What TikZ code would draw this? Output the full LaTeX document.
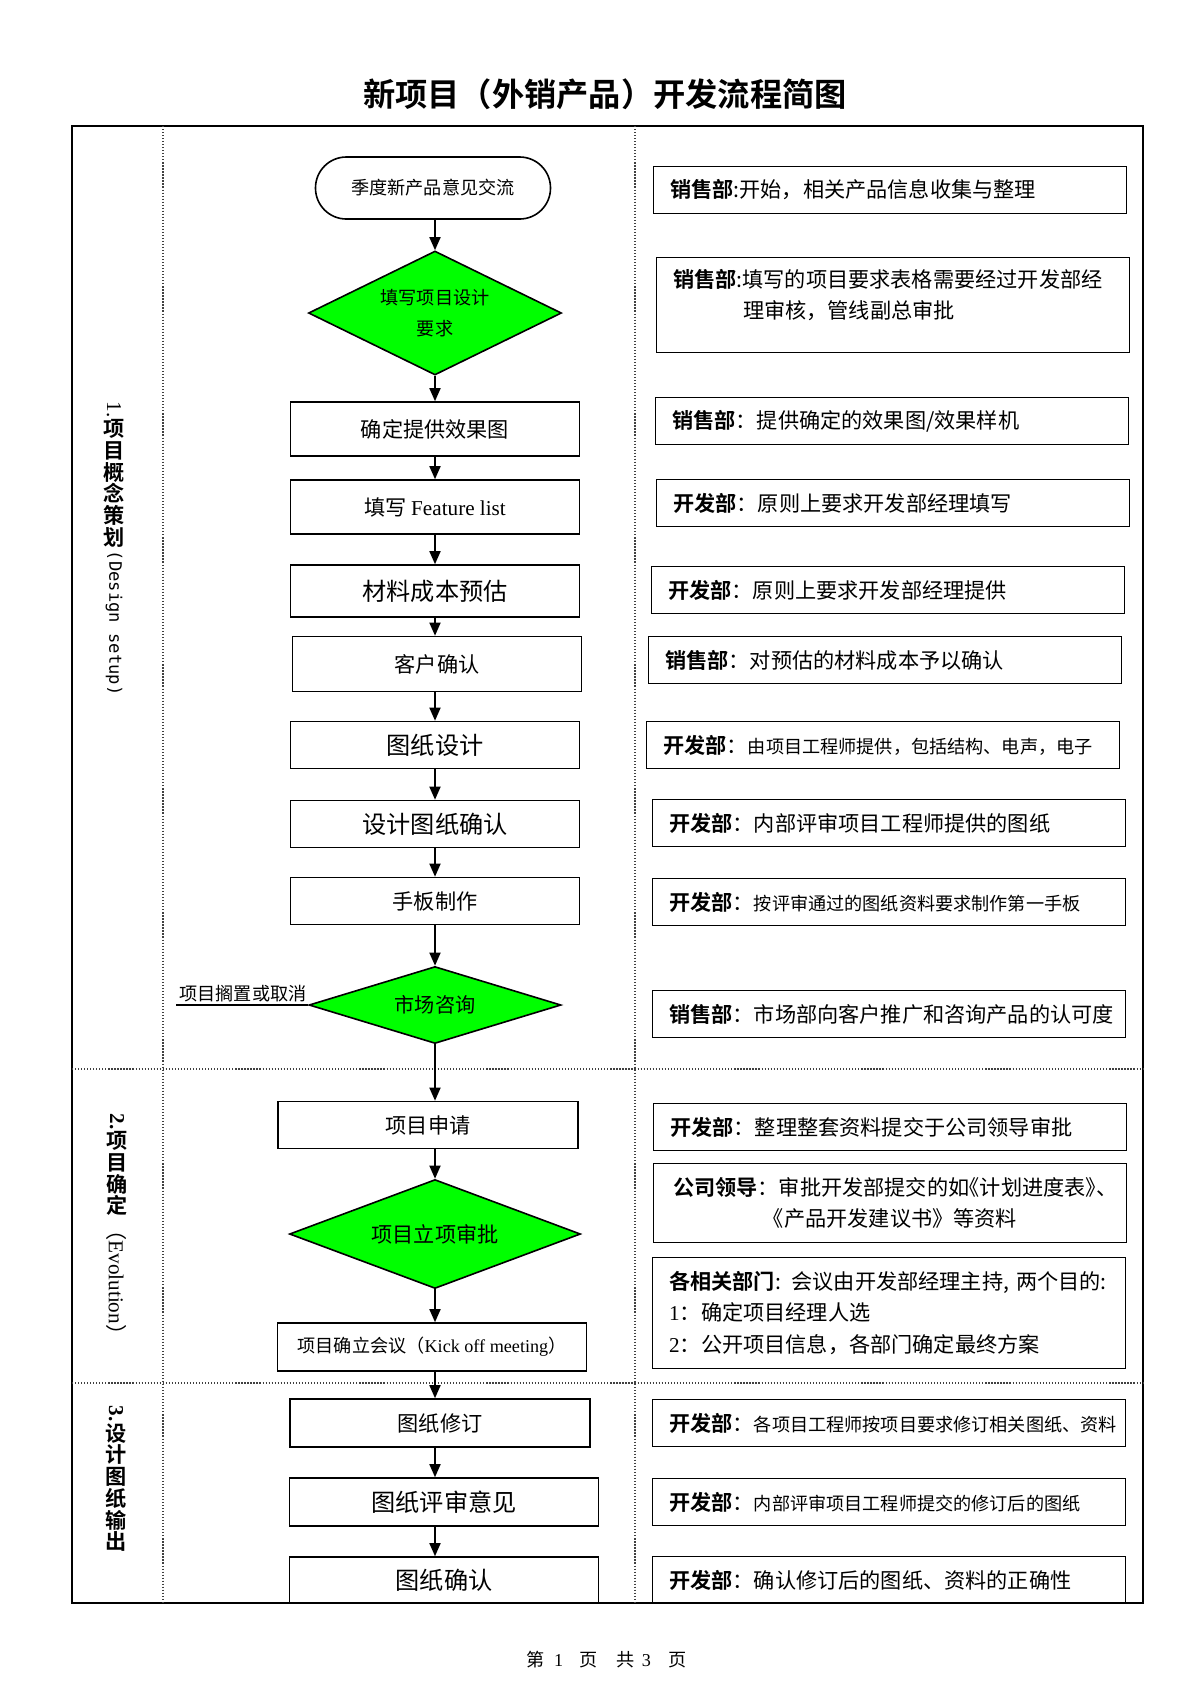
\documentclass[tikz,border=0pt]{standalone}
\usepackage{fontspec}
\usepackage{graphicx}
\setmainfont{Liberation Serif}
\newfontfamily\cjk{Noto Sans CJK SC}[BoldFont={Noto Sans CJK SC Bold}]
\newfontfamily\cjkh{Noto Sans CJK SC}[RawFeature=+halt]
\newfontfamily\monof{DejaVu Sans Mono}
\usepackage{tikz}
\usetikzlibrary{shapes.geometric}
\usetikzlibrary{arrows.meta}
\newcommand\wuhao{\fontsize{10.5}{15.5}\selectfont}
\newcommand\xiaosi{\fontsize{12}{14.4}\selectfont}
\newcommand\xiaowu{\fontsize{9}{15.4}\selectfont}
\newcommand\sanhao{\fontsize{16}{19}\selectfont}
\newcommand\dept[1]{{\bfseries #1}}
\def\pxu{0.496pt}

\begin{document}
\begin{tikzpicture}[%
  x=\pxu, y=-\pxu,
  arr/.style={-{Triangle[length=6.5pt,width=5.5pt]}, line width=0.8pt},
  link/.style={line width=0.8pt},
  frame/.style={line width=0.9pt},
  lane/.style={line width=0.6pt, black!75, dash pattern=on 0.6pt off 0.9pt},
  box/.style={draw, line width=0.8pt, minimum width=289*\pxu, minimum height=47*\pxu,
    inner sep=2pt, font={\cjk\wuhao}},
  term/.style={box, rounded corners=15.3pt, minimum width=235*\pxu, minimum height=62*\pxu,
    font={\cjk\xiaowu}},
  decide/.style={diamond, draw, fill=green, line width=0.8pt, inner sep=0pt, aspect=2,
    font={\cjk\wuhao}, align=center},
  note/.style={draw, line width=0.8pt, minimum width=473*\pxu, minimum height=47*\pxu,
    inner xsep=8pt, text width=218pt, align=left, font={\cjk\wuhao}},
  sect/.style={align=center, inner sep=0pt, font={\cjk\bfseries\fontsize{10.5}{10.8}\selectfont}}
  ]
  \fill[white] (0,0) rectangle (1200,1698);
  \useasboundingbox (0,0) rectangle (1200,1698);

  % Title and page number
  \node[font={\cjk\bfseries\sanhao}] (title) at (605,94) {新项目（外销产品）开发流程简图};
  \node[font=\xiaowu] (foot) at (607,1660)
    {{\cjk 第}\hspace{4.5pt}1\hspace{8pt}{\cjk 页}\hspace{9.5pt}{\cjk 共}\hspace{3.5pt}3\hspace{9pt}{\cjk 页}};

  % Draw the flow steps
  \node[term] (start) at (433,188) {季度新产品意见交流};
  \node[decide, minimum width=253*\pxu, minimum height=124*\pxu, font={\cjk\xiaowu}] (req) at (435,313) {填写项目设计\\要求};
  \node[box, minimum height=54*\pxu] (render) at (435,429) {确定提供效果图};
  \node[box, minimum height=54*\pxu] (feat) at (435,507) {填写 {\rmfamily Feature list}};
  \node[box, minimum height=52*\pxu, font={\cjk\xiaosi}] (cost) at (435,591) {材料成本预估};
  \node[box, minimum height=55*\pxu] (confirm) at (437,664) {客户确认};
  \node[box, font={\cjk\xiaosi}] (design) at (435,745) {图纸设计};
  \node[box, font={\cjk\xiaosi}] (check) at (435,824) {设计图纸确认};
  \node[box] (proto) at (435,901) {手板制作};
  \node[decide, minimum width=252*\pxu, minimum height=77*\pxu, font={\cjk\fontsize{10}{12}\selectfont}] (market) at (435,1005) {市场咨询};
  \node[box, minimum width=300*\pxu] (apply) at (428,1125) {项目申请};
  \node[decide, minimum width=291*\pxu, minimum height=109*\pxu] (approve) at (435,1234) {项目立项审批};
  \node[box, minimum width=309*\pxu, minimum height=48*\pxu, font={\cjk\xiaowu}] (kickoff) at (432,1347) {项目确立会议（{\rmfamily Kick off meeting}）};
  \node[box, minimum width=300*\pxu, minimum height=48*\pxu] (revise) at (440,1423) {图纸修订};
  \node[box, minimum width=309*\pxu, minimum height=48*\pxu, font={\cjk\xiaosi}] (review) at (444,1502) {图纸评审意见};
  \node[box, minimum width=309*\pxu, minimum height=46*\pxu, font={\cjk\xiaosi}] (final) at (444,1580) {图纸确认};

  % Draw the notes of the departments
  \foreach \name/\x/\y/\txt in {%
    r1/890/190/{\dept{销售部}:开始，相关产品信息收集与整理},
    r3/892/421/{\dept{销售部}：提供确定的效果图/效果样机},
    r4/893/503/{\dept{开发部}：原则上要求开发部经理填写},
    r5/888/590/{\dept{开发部}：原则上要求开发部经理提供},
    r6/885/660/{\dept{销售部}：对预估的材料成本予以确认},
    r7/883/745/{\dept{开发部}：{\xiaowu 由项目工程师提供，包括结构、电声，电子}},
    r8/889/823/{\dept{开发部}：内部评审项目工程师提供的图纸},
    r9/889/902/{\dept{开发部}：{\xiaowu 按评审通过的图纸资料要求制作第一手板}},
    r10/889/1014/{\dept{销售部}：市场部向客户推广和咨询产品的认可度},
    r11/890/1127/{\dept{开发部}：整理整套资料提交于公司领导审批},
    r14/889/1423/{\dept{开发部}：{\xiaowu 各项目工程师按项目要求修订相关图纸、资料}},
    r15/889/1502/{\dept{开发部}：{\xiaowu 内部评审项目工程师提交的修订后的图纸}},
    r16/889/1580/{\dept{开发部}：确认修订后的图纸、资料的正确性}}
  \node[note] (\name) at (\x,\y) {\txt};
  \node[note, minimum height=95*\pxu] (r2) at (893,305)
    {\dept{销售部}:填写的项目要求表格需要经过开发部经\\\hspace*{3.3em}理审核，管线副总审批\\[-4.5pt]\mbox{}};
  \node[note, minimum height=79*\pxu, align=center] (r12) at (890,1203)
    {\dept{公司领导}：审批开发部提交的如{\cjkh 《}计划进度表{\cjkh 》、}\\《产品开发建议书》等资料};
  \node[note, minimum height=111*\pxu] (r13) at (889,1313)
    {\dept{各相关部门}: 会议由开发部经理主持, 两个目的:\\{\rmfamily 1}：确定项目经理人选\\{\rmfamily 2}：公开项目信息，各部门确定最终方案};

  % Annotate the stages
  \node[sect, anchor=north] (s1) at (114,401)
    {\rotatebox{-90}{\rmfamily\mdseries 1.}\\项\\目\\概\\念\\策\\划\\[-8pt]\rotatebox{-90}{\monof\mdseries\fontsize{8.5}{10}\selectfont(Design setup)}};
  \node[sect, anchor=north] (s2) at (117,1113)
    {\rotatebox{-90}{\rmfamily 2.}\\项\\目\\确\\定\\[-8pt]\rotatebox{-90}{\mdseries（{\rmfamily Evolution}）}};
  \node[sect, anchor=north] (s3) at (116,1405)
    {\rotatebox{-90}{\rmfamily 3.}\\设\\计\\图\\纸\\输\\出};

  % Frame and lanes
  \draw[frame] (72,126) rectangle (1143,1603);
  \draw[lane] (163,126) -- (163,1603);
  \draw[lane] (635,126) -- (635,1603);
  \draw[lane] (72,1069) -- (1143,1069);
  \draw[lane] (72,1383) -- (1143,1383);

  % Connect the steps
  \coordinate (axis) at (435,0);
  \foreach \a/\b in {start/req,req/render,render/feat,feat/cost,cost/confirm,
    confirm/design,design/check,check/proto,proto/market,market/apply,
    apply/approve,approve/kickoff,kickoff/revise,revise/review,review/final}
  \draw[arr] (\a.south -| axis) -- (\b.north -| axis);

  % The project may be shelved
  \coordinate (shelve) at (176,1005);
  \draw[link] (market.west) -- (shelve);
  \node[anchor=south west, inner sep=1.5pt, font={\cjk\xiaowu}] (shelvetxt) at (shelve) {项目搁置或取消};
\end{tikzpicture}
\end{document}
